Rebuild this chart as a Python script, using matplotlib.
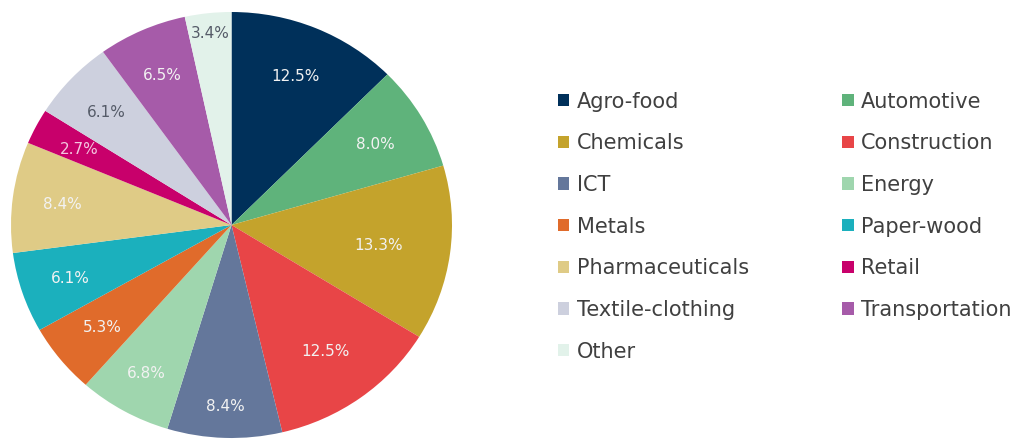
import matplotlib
matplotlib.use("Agg")
import matplotlib.pyplot as plt
import numpy as np
from matplotlib.patches import Patch

categories = ["Agro-food", "Automotive", "Chemicals", "Construction", "ICT", "Energy",
              "Metals", "Paper-wood", "Pharmaceuticals", "Retail", "Textile-clothing",
              "Transportation", "Other"]
values = [12.5, 8.0, 13.3, 12.5, 8.4, 6.8, 5.3, 6.1, 8.4, 2.7, 6.1, 6.5, 3.4]
colors = ["#00305a", "#5fb37b", "#c4a32c", "#e84547", "#64779b", "#9fd6ae",
          "#e06b2b", "#1bb0bd", "#dfcb86", "#c8006b", "#cdd0de", "#a65ba9", "#e2f2ea"]
label_colors = ["#f2f2f2"] * 13
label_colors[10] = "#555b68"
label_colors[12] = "#555b68"
label_colors[9] = "#f3c6de"
label_radius = [0.76, 0.76, 0.675, 0.725, 0.845, 0.79, 0.755, 0.77, 0.775, 0.78, 0.78, 0.775, 0.91]

plt.rcParams['font.family'] = ['DejaVu Sans']
fig = plt.figure(figsize=(10.24, 4.41), dpi=100)
ax = fig.add_axes([11 / 1024, 3 / 441, 441 / 1024, 426 / 441])
wedges, _ = ax.pie(values, colors=colors, startangle=90, counterclock=False,
                   wedgeprops=dict(linewidth=0))
ax.set_aspect('auto')
ax.set_xlim(-1, 1)
ax.set_ylim(-1, 1)

for w, v, r, c in zip(wedges, values, label_radius, label_colors):
    ang = np.deg2rad((w.theta1 + w.theta2) / 2)
    ax.text(r * np.cos(ang), r * np.sin(ang), f"{v:.1f}%", ha='center',
            va='center_baseline', color=c, fontsize=11)

handles = [Patch(facecolor=col, edgecolor='none') for col in colors]
order = [0, 2, 4, 6, 8, 10, 12, 1, 3, 5, 7, 9, 11]
leg = fig.legend([handles[i] for i in order], [categories[i] for i in order],
                 ncol=2, loc='upper left', bbox_to_anchor=(0.5264, 0.835),
                 frameon=False, fontsize=15, handlelength=0.55, handleheight=0.55,
                 handletextpad=0.35, labelspacing=1.04, columnspacing=4.5,
                 labelcolor='#404040')

fig.savefig("out.png", dpi=100, facecolor='white')
